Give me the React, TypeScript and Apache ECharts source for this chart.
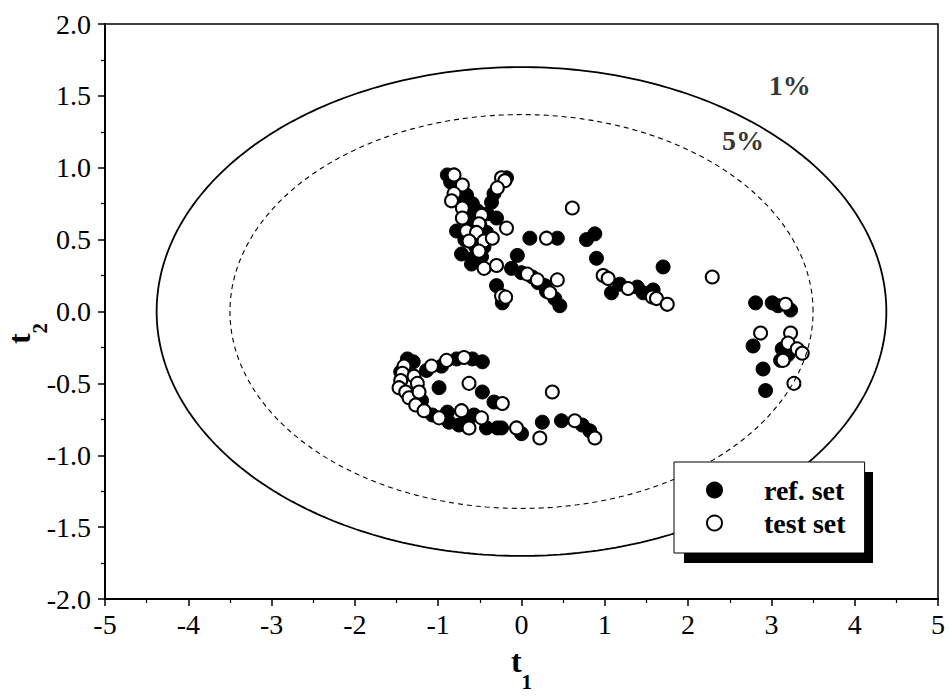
import React, { useEffect, useRef } from "react";
import * as echarts from "echarts";

const FONT = "'Liberation Serif', 'Times New Roman', serif";

// Axis ticks
const xTicks = [-5, -4, -3, -2, -1, 0, 1, 2, 3, 4, 5];
const yTicks = [-2.0, -1.5, -1.0, -0.5, 0.0, 0.5, 1.0, 1.5, 2.0];

// Confidence ellipses (semi-axes in t1, t2 units)
const ellipse1 = { label: "1%", a: 4.38, b: 1.7, labelPos: [3.22, 1.57] };
const ellipse5 = { label: "5%", a: 3.5, b: 1.37, labelPos: [2.66, 1.19] };

// Reference set (filled circles) [t1, t2]
const refSet: [number, number][] = [
  [-0.89, 0.95], [-0.85, 0.9], [-0.77, 0.86], [-0.66, 0.81], [-0.59, 0.75], [-0.62, 0.72],
  [-0.53, 0.7], [-0.7, 0.75], [-0.62, 0.62], [-0.5, 0.6], [-0.78, 0.56], [-0.68, 0.5],
  [-0.55, 0.45], [-0.45, 0.45], [-0.72, 0.4], [-0.56, 0.38], [-0.48, 0.38], [-0.42, 0.55],
  [-0.3, 0.65], [-0.6, 0.33], [-0.18, 0.93], [-0.33, 0.82], [-0.36, 0.76], [-0.41, 0.68],
  [-0.3, 0.18], [-0.23, 0.06], [-0.05, 0.39], [-0.12, 0.3], [0.0, 0.27], [0.13, 0.24],
  [0.2, 0.2], [0.28, 0.18], [0.3, 0.14], [0.4, 0.09], [0.46, 0.04], [0.1, 0.51], [0.43, 0.51],
  [0.78, 0.5], [0.88, 0.54], [0.9, 0.37], [1.7, 0.31], [1.08, 0.13], [1.18, 0.19],
  [1.39, 0.17], [1.46, 0.13], [1.58, 0.15],
  [2.81, 0.06], [3.01, 0.06], [3.08, 0.04], [3.23, 0.01], [2.78, -0.24], [3.13, -0.26],
  [3.2, -0.3], [3.11, -0.34], [2.9, -0.4], [2.93, -0.55],
  [-1.37, -0.33], [-1.3, -0.35], [-1.45, -0.42], [-1.14, -0.41], [-0.96, -0.38], [-0.78, -0.33],
  [-0.59, -0.33], [-0.47, -0.35], [-0.99, -0.53], [-1.2, -0.62], [-1.07, -0.72], [-0.89, -0.7],
  [-0.87, -0.77], [-0.75, -0.79], [-0.65, -0.76], [-0.57, -0.72], [-0.42, -0.81], [-0.29, -0.81],
  [-0.47, -0.56], [-0.33, -0.63], [-0.24, -0.81], [0.0, -0.85], [0.25, -0.77], [0.48, -0.76],
  [0.73, -0.79], [0.82, -0.83],
];

// Test set (open circles) [t1, t2]
const testSet: [number, number][] = [
  [-0.81, 0.95], [-0.71, 0.88], [-0.81, 0.82], [-0.84, 0.77], [-0.71, 0.72], [-0.48, 0.67],
  [-0.71, 0.65], [-0.66, 0.56], [-0.51, 0.61], [-0.54, 0.55], [-0.63, 0.49], [-0.45, 0.49],
  [-0.35, 0.51], [-0.18, 0.58], [-0.51, 0.42], [-0.45, 0.3], [-0.3, 0.32], [-0.24, 0.93],
  [-0.2, 0.91], [-0.29, 0.86], [-0.24, 0.11], [-0.19, 0.1], [0.07, 0.26], [0.19, 0.22],
  [0.34, 0.13], [0.43, 0.22], [0.3, 0.51], [0.61, 0.72], [0.98, 0.25], [1.04, 0.23],
  [1.28, 0.16], [1.57, 0.1], [1.62, 0.09], [1.75, 0.05], [2.29, 0.24],
  [3.17, 0.05], [2.87, -0.15], [3.23, -0.15], [3.2, -0.22], [3.31, -0.26], [3.37, -0.29],
  [3.14, -0.34], [3.27, -0.5],
  [-1.41, -0.38], [-1.43, -0.43], [-1.45, -0.48], [-1.47, -0.53], [-1.39, -0.56], [-1.35, -0.6],
  [-1.29, -0.45], [-1.25, -0.5], [-1.23, -0.56], [-1.27, -0.65], [-1.17, -0.69], [-0.99, -0.74],
  [-0.72, -0.69], [-0.63, -0.81], [-0.48, -0.74], [-1.08, -0.38], [-0.9, -0.34], [-0.69, -0.32],
  [-0.63, -0.5], [-0.23, -0.64], [0.37, -0.56], [-0.06, -0.81], [0.22, -0.88], [0.64, -0.76],
  [0.88, -0.88],
];

function ellipsePoints(a: number, b: number): [number, number][] {
  const pts: [number, number][] = [];
  for (let i = 0; i <= 360; i++) {
    const t = (i * Math.PI) / 180;
    pts.push([a * Math.cos(t), b * Math.sin(t)]);
  }
  return pts;
}

const nameRich = {
  a: { fontFamily: FONT, fontSize: 32, fontWeight: "bold", color: "#000", lineHeight: 34, verticalAlign: "bottom" },
  b: { fontFamily: FONT, fontSize: 21, fontWeight: "bold", color: "#000", lineHeight: 21, verticalAlign: "bottom", padding: [0, 0, -15, 0] },
};

export default function App() {
  const ref = useRef<HTMLDivElement>(null);
  useEffect(() => {
    if (!ref.current) return;
    const chart = echarts.init(ref.current, null, { renderer: "svg" });
    const option: any = {
      animation: false,
      backgroundColor: "#fff",
      grid: {
        left: 105, right: 11, top: 24, bottom: 101,
        outerBoundsMode: "none", containLabel: false,
        show: true, borderColor: "#000", borderWidth: 1.5, backgroundColor: "transparent",
      },
      xAxis: {
        type: "value", min: xTicks[0], max: xTicks[xTicks.length - 1], interval: 1,
        axisLine: { onZero: false, lineStyle: { color: "#000", width: 2 } },
        axisTick: { length: 7, lineStyle: { color: "#000", width: 1.5 } },
        minorTick: { show: true, splitNumber: 2, length: 4, lineStyle: { color: "#000", width: 1.2 } },
        splitLine: { show: false },
        axisLabel: { color: "#000", fontFamily: FONT, fontSize: 28, margin: 11, formatter: (v: number) => String(v) },
        name: "{a|t}{b|1}", nameLocation: "middle", nameGap: 44,
        nameTextStyle: { rich: nameRich },
      },
      yAxis: {
        type: "value", min: yTicks[0], max: yTicks[yTicks.length - 1], interval: 0.5,
        axisLine: { onZero: false, lineStyle: { color: "#000", width: 2 } },
        axisTick: { length: 7, lineStyle: { color: "#000", width: 1.5 } },
        minorTick: { show: true, splitNumber: 2, length: 4, lineStyle: { color: "#000", width: 1.2 } },
        splitLine: { show: false },
        axisLabel: { color: "#000", fontFamily: FONT, fontSize: 28, margin: 14, formatter: (v: number) => v.toFixed(1) },
        name: "{a|t}{b|2}", nameLocation: "middle", nameGap: 70, nameMoveOverlap: false,
        nameTextStyle: { rich: nameRich, padding: [0, 44, 0, 0] },
      },
      legend: {
        left: 674, top: 462, orient: "vertical", z: 10,
        data: ["ref. set", "test set"],
        padding: [14, 19, 16, 32],
        itemWidth: 15, itemHeight: 15, itemGap: 5,
        backgroundColor: "#fff", borderColor: "#000", borderWidth: 1,
        textStyle: { fontFamily: FONT, fontSize: 28, fontWeight: "bold", color: "#000", padding: [0, 0, 0, 37] },
      },
      graphic: [
        { type: "rect", left: 684, top: 472, shape: { width: 189, height: 91 }, style: { fill: "#000" }, z: 3 },
      ],
      series: [
        {
          type: "line", name: "1% limit", data: ellipsePoints(ellipse1.a, ellipse1.b), showSymbol: false,
          lineStyle: { color: "#000", width: 1.8, type: "solid" }, silent: true,
        },
        {
          type: "line", name: "5% limit", data: ellipsePoints(ellipse5.a, ellipse5.b), showSymbol: false,
          lineStyle: { color: "#000", width: 1.1, type: [5, 4] }, silent: true,
        },
        {
          type: "scatter", name: "ref. set", data: refSet, symbol: "circle", symbolSize: 14,
          itemStyle: { color: "#000", borderColor: "#000", borderWidth: 1, opacity: 1 },
        },
        {
          type: "scatter", name: "test set", data: testSet, symbol: "circle", symbolSize: 13,
          itemStyle: { color: "#fff", borderColor: "#000", borderWidth: 2, opacity: 1 },
        },
        {
          type: "scatter", name: "labels", symbolSize: 0, silent: true,
          data: [
            { value: ellipse1.labelPos, label: { formatter: ellipse1.label } },
            { value: ellipse5.labelPos, label: { formatter: ellipse5.label } },
          ],
          label: { show: true, position: "inside", fontFamily: FONT, fontSize: 28, fontWeight: "bold", color: "#000" },
        },
      ],
    };
    chart.setOption(option);
    return () => chart.dispose();
  }, []);
  return <div ref={ref} style={{ width: 949, height: 700, position: "absolute", left: 0, top: 0 }} />;
}
